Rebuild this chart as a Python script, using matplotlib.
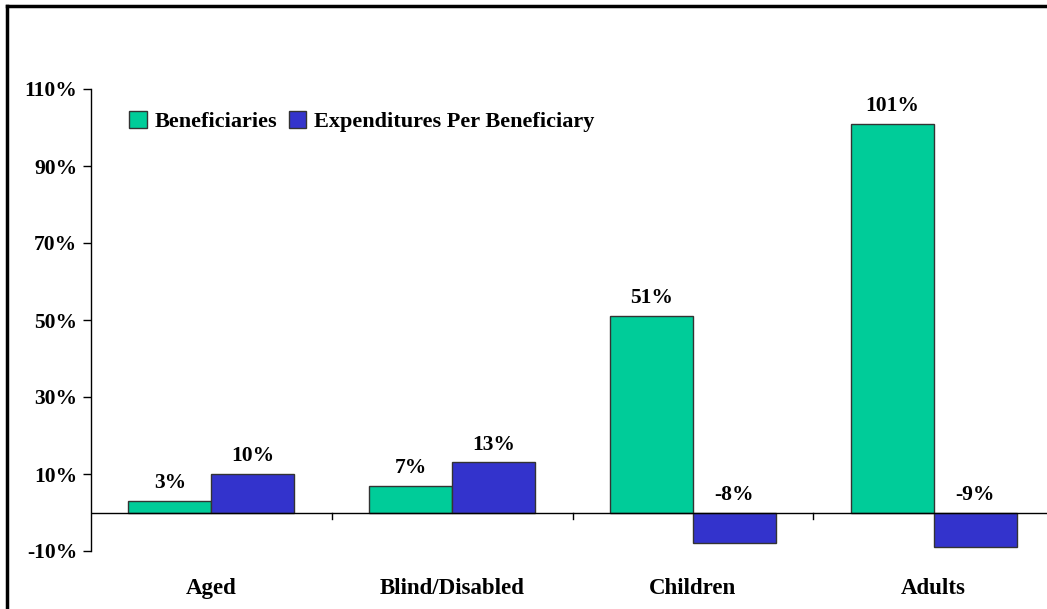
import numpy as np
import matplotlib
matplotlib.use('Agg')
import matplotlib.pyplot as plt
from matplotlib.lines import Line2D

categories = ['Aged', 'Blind/Disabled', 'Children', 'Adults']
beneficiaries = [3, 7, 51, 101]
expenditures = [10, 13, -8, -9]
series_names = ['Beneficiaries', 'Expenditures Per Beneficiary']
yticks = [-10, 10, 30, 50, 70, 90, 110]

green = '#00CC99'
blue = '#3333CC'

plt.rcParams['font.family'] = 'Liberation Serif'
plt.rcParams['font.weight'] = 'bold'
plt.rcParams['font.size'] = 15

fig = plt.figure(figsize=(10.47, 6.09), dpi=100)
ax = fig.add_axes([91 / 1047, 1 - 551 / 609, (1047 - 91) / 1047, 462 / 609])

x = np.arange(len(categories))
w = 0.345
b1 = ax.bar(x - w / 2, beneficiaries, w, color=green, edgecolor='#333333', linewidth=1, label=series_names[0], zorder=2)
b2 = ax.bar(x + w / 2, expenditures, w, color=blue, edgecolor='#333333', linewidth=1, label=series_names[1], zorder=2)

for rects, vals in [(b1, beneficiaries), (b2, expenditures)]:
    for r, v in zip(rects, vals):
        ytxt = max(v, 0) + 2
        ax.text(r.get_x() + r.get_width() / 2, ytxt, f'{v}%', ha='center', va='bottom',
                fontweight='bold', fontsize=15.5)

ax.set_ylim(-10, 110)
ax.set_xlim(-0.5, 3.5 - 7 / 240.7)
ax.set_yticks(yticks)
ax.set_yticklabels([f'{t}%' for t in yticks])
ax.tick_params(axis='y', length=6, width=1, pad=4, labelsize=15.5)

ax.axhline(0, color='black', lw=1, zorder=3)
ax.set_xticks([])
for b in [0.5, 1.5, 2.5]:
    ax.plot([b, b], [0, -1.8], color='black', lw=1, clip_on=False, zorder=3)
for i, c in enumerate(categories):
    ax.text(i, -19.8, c, ha='center', va='center', fontsize=16.5, fontweight='bold')

for s in ['top', 'right', 'bottom']:
    ax.spines[s].set_visible(False)
ax.spines['left'].set_linewidth(1)

ax.legend(loc='upper left', bbox_to_anchor=(0.0285, 0.977), ncol=2, frameon=False, borderpad=0,
          handlelength=0.8, handleheight=0.8, handletextpad=0.35, columnspacing=0.5,
          prop={'weight': 'bold', 'size': 16})

# outer frame (left and top only)
fig.add_artist(Line2D([6.5 / 1047, 6.5 / 1047], [0, 1 - 5.5 / 609], color='black', lw=2.5, transform=fig.transFigure))
fig.add_artist(Line2D([6.5 / 1047, 1], [1 - 5.5 / 609, 1 - 5.5 / 609], color='black', lw=2.5, transform=fig.transFigure))

fig.savefig('out.png', dpi=100)
